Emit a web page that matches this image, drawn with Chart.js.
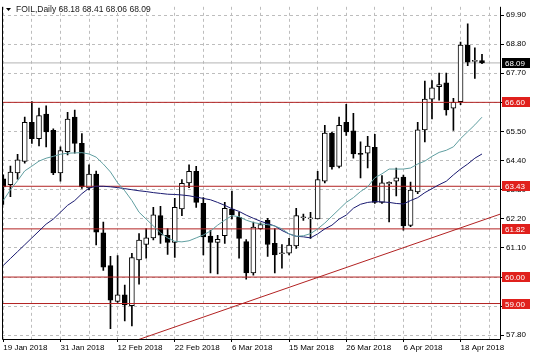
<!DOCTYPE html>
<html><head><meta charset="utf-8">
<script src="https://cdn.jsdelivr.net/npm/chart.js@4/dist/chart.umd.min.js"></script>
<style>html,body{margin:0;padding:0;background:#fff;overflow:hidden}#wrap{width:536px;height:357px}</style>
</head><body><div id="wrap"><canvas id="c" width="536" height="357"></canvas></div>
<script>
const dates = ['19 Jan 2018','22 Jan 2018','23 Jan 2018','24 Jan 2018','25 Jan 2018','26 Jan 2018','29 Jan 2018','30 Jan 2018',
 '31 Jan 2018','1 Feb 2018','2 Feb 2018','5 Feb 2018','6 Feb 2018','7 Feb 2018','8 Feb 2018','9 Feb 2018',
 '12 Feb 2018','13 Feb 2018','14 Feb 2018','15 Feb 2018','16 Feb 2018','19 Feb 2018','20 Feb 2018','21 Feb 2018',
 '22 Feb 2018','23 Feb 2018','26 Feb 2018','27 Feb 2018','28 Feb 2018','1 Mar 2018','2 Mar 2018','5 Mar 2018',
 '6 Mar 2018','7 Mar 2018','8 Mar 2018','9 Mar 2018','11 Mar 2018','12 Mar 2018','13 Mar 2018','14 Mar 2018',
 '15 Mar 2018','16 Mar 2018','19 Mar 2018','20 Mar 2018','21 Mar 2018','22 Mar 2018','23 Mar 2018','25 Mar 2018',
 '26 Mar 2018','27 Mar 2018','28 Mar 2018','29 Mar 2018','2 Apr 2018','3 Apr 2018','4 Apr 2018','5 Apr 2018',
 '6 Apr 2018','9 Apr 2018','10 Apr 2018','11 Apr 2018','12 Apr 2018','13 Apr 2018','16 Apr 2018','17 Apr 2018',
 '18 Apr 2018','19 Apr 2018','20 Apr 2018','23 Apr 2018'];
const open  = [63.71,63.49,63.93,64.37,65.85,65.23,66.16,65.54,63.93,64.74,66.04,65.05,63.37,63.89,61.67,60.43,
 59.08,59.33,58.92,60.65,61.23,61.48,62.32,61.58,61.31,62.57,63.56,63.99,62.79,61.55,61.31,61.56,
 62.57,62.26,61.34,60.16,61.83,62.14,61.27,60.88,60.90,61.18,62.24,62.20,62.20,63.62,65.44,64.18,
 65.85,65.52,64.67,64.68,64.90,62.82,63.52,63.62,63.78,61.95,63.22,65.56,66.72,67.19,67.34,66.38,
 66.63,68.76,68.15,68.18];
const high  = [63.86,64.19,64.64,66.04,66.63,66.38,66.47,65.60,64.92,66.22,66.31,65.42,64.24,64.00,62.08,60.78,
 60.81,59.70,60.90,61.64,61.83,62.63,62.67,61.83,62.97,63.68,64.24,64.18,63.00,61.77,61.58,62.82,
 63.25,62.45,61.42,62.08,62.05,62.22,61.83,61.23,61.46,62.60,62.38,62.45,63.99,65.73,65.48,66.04,
 66.53,66.19,65.11,65.32,65.39,63.83,63.60,64.12,63.85,63.59,65.85,67.40,67.42,67.71,67.71,66.75,
 68.88,69.57,68.66,68.41];
const low   = [62.74,63.04,63.70,64.30,65.05,64.95,64.92,63.87,63.62,64.61,64.68,63.35,63.29,61.21,60.25,58.05,
 59.04,58.34,58.15,59.73,60.71,61.40,61.27,60.86,60.74,62.32,63.38,62.63,60.84,60.16,60.12,61.27,
 62.20,60.71,59.92,60.07,61.80,60.78,60.16,60.34,60.84,61.08,62.14,61.46,62.20,63.56,64.08,64.12,
 65.35,64.49,63.75,64.12,62.78,62.78,62.08,63.07,61.77,61.90,63.15,65.11,65.97,66.68,66.12,65.54,
 66.51,67.99,67.50,68.06];
const close = [63.41,63.97,64.43,65.85,65.23,66.10,65.48,63.93,64.78,65.97,65.05,63.41,63.89,61.70,60.37,59.13,
 59.33,58.95,60.74,61.40,61.48,62.35,61.58,61.31,62.63,63.54,63.99,62.82,61.52,61.31,61.43,62.60,
 62.35,61.46,60.16,61.89,61.98,61.23,60.84,60.92,61.21,62.32,62.28,62.24,63.68,65.44,64.16,65.73,
 65.48,64.65,64.63,64.95,62.82,63.56,63.58,63.75,61.93,63.29,65.56,66.72,67.15,67.27,66.31,66.60,
 68.76,68.12,68.17,68.09];
const maFast = [62.89,63.30,63.64,64.01,64.19,64.38,64.49,64.56,64.64,64.68,64.69,64.70,64.65,64.53,64.27,63.97,
 63.56,63.26,62.89,62.45,62.19,61.93,61.67,61.48,61.35,61.33,61.37,61.48,61.59,61.74,61.96,62.15,
 62.32,62.28,62.15,62.06,62.01,61.98,61.93,61.82,61.63,61.54,61.56,61.64,61.82,62.04,62.30,62.56,
 62.82,63.00,63.23,63.41,63.75,63.90,64.08,64.08,64.08,64.12,64.27,64.38,64.56,64.71,64.79,64.92,
 65.23,65.49,65.75,66.04];
const maSlow = [60.44,60.70,60.96,61.22,61.48,61.74,62.00,62.19,62.45,62.71,62.89,63.15,63.36,63.43,63.43,63.41,
 63.38,63.34,63.30,63.26,63.23,63.19,63.16,63.13,63.12,63.10,63.07,63.02,62.97,62.92,62.82,62.71,
 62.58,62.48,62.34,62.22,62.11,62.02,61.93,61.76,61.63,61.54,61.52,61.48,61.63,61.82,61.96,62.19,
 62.34,62.60,62.75,62.82,62.85,62.84,62.82,62.78,62.76,62.89,63.00,63.19,63.34,63.49,63.62,63.86,
 64.08,64.27,64.49,64.65];
const levels = [66.60, 63.43, 61.82, 60.00, 59.00];
const lastPrice = 68.09;
const yTicks = [57.80, 58.90, 60.00, 61.10, 62.20, 63.30, 64.40, 65.50, 66.60, 67.70, 68.80, 69.90];
const trendLine = [{x: 15, y: 57.27}, {x: 70, y: 62.42}];
const header = 'FOIL,Daily 68.18 68.41 68.06 68.09';

const FONT = {family: '"Liberation Sans", Arial, sans-serif', size: 8};
const GRID = '#bdbdbd';
const LEVEL = '#b22222';
const DASH = [3, 3];

const hline = (v, color, order) => ({
  type: 'line', data: [{x: -1, y: v}, {x: 71, y: v}], borderColor: color, borderWidth: 1,
  pointRadius: 0, order: order
});

const datasets = [
  {type: 'line', data: maFast.map((v, i) => ({x: i, y: v})), borderColor: '#5f9ea0', borderWidth: 1, pointRadius: 0, order: -3},
  {type: 'line', data: maSlow.map((v, i) => ({x: i, y: v})), borderColor: '#191970', borderWidth: 1, pointRadius: 0, order: -3},
  ...levels.map(v => hline(v, LEVEL, -2)),
  hline(lastPrice, '#b4b4b4', 3),
  {type: 'line', data: trendLine, borderColor: LEVEL, borderWidth: 1, pointRadius: 0, order: -2},
  {type: 'bar', data: open.map((o, i) => ({x: i, y: [o, close[i]]})),
   backgroundColor: open.map((o, i) => close[i] >= o ? '#ffffff' : '#000000'),
   borderColor: '#000', borderWidth: 1, borderSkipped: false, barThickness: 5, grouped: false, minBarLength: 1, order: 0},
  {type: 'bar', data: low.map((l, i) => ({x: i, y: [l, high[i]]})),
   backgroundColor: '#000', borderWidth: 0, barThickness: 1, grouped: false, order: 1}
];

const decor = {
  id: 'decor',
  afterDraw(chart) {
    const {ctx, chartArea: a, scales: {y}} = chart;
    ctx.save();
    ctx.strokeStyle = '#000'; ctx.lineWidth = 1; ctx.setLineDash([]);
    ctx.beginPath();
    ctx.moveTo(a.left + 0.5, a.top); ctx.lineTo(a.left + 0.5, a.bottom + 0.5);
    ctx.lineTo(a.right + 0.5, a.bottom + 0.5); ctx.lineTo(a.right + 0.5, a.top);
    ctx.stroke();
    ctx.font = '8px "Liberation Sans", Arial, sans-serif';
    ctx.textBaseline = 'middle'; ctx.textAlign = 'left';
    const box = (v, fill) => {
      const py = Math.round(y.getPixelForValue(v));
      ctx.fillStyle = fill;
      ctx.fillRect(a.right + 2, py - 5, 28, 10);
      ctx.fillStyle = '#fff';
      ctx.fillText(v.toFixed(2), a.right + 5, py + 0.5);
    };
    levels.forEach(v => box(v, '#e0201c'));
    box(lastPrice, '#000');
    ctx.fillStyle = '#000';
    ctx.beginPath(); ctx.moveTo(6, 8); ctx.lineTo(11, 8); ctx.lineTo(8.5, 11); ctx.closePath(); ctx.fill();
    ctx.fillStyle = '#202020';
    ctx.font = '8.5px "Liberation Sans", Arial, sans-serif';
    ctx.fillText(header, 16, 9.5);
    ctx.restore();
  }
};

new Chart(document.getElementById('c'), {
  type: 'bar',
  data: {datasets},
  options: {
    responsive: false, animation: false, devicePixelRatio: 1,
    layout: {padding: {left: 2, top: 1, right: 0, bottom: 0}},
    plugins: {legend: {display: false}, tooltip: {enabled: false}},
    scales: {
      x: {
        type: 'linear', min: -0.18, max: 69.52, offset: false,
        afterBuildTicks: s => { s.ticks = Array.from({length: 18}, (_, k) => ({value: k * 4})); },
        afterFit: s => { s.height = 18; },
        grid: {offset: false, color: GRID, lineWidth: 1, tickLength: 3, borderDash: DASH,
               tickColor: c => (c.tick && c.tick.value % 8 === 0) ? '#000' : 'rgba(0,0,0,0)', tickBorderDash: [1, 0]},
        border: {display: false, dash: DASH},
        ticks: {autoSkip: false, maxRotation: 0, align: 'start', padding: 1, color: '#000', font: FONT,
                callback: v => (v % 8 === 0 && dates[v]) ? dates[v] : ''}
      },
      y: {
        type: 'linear', position: 'right', min: 57.66, max: 70.21, beginAtZero: false,
        afterBuildTicks: s => { s.ticks = yTicks.map(v => ({value: v})); },
        afterFit: s => { s.width = 36; },
        grid: {color: GRID, lineWidth: 1, tickLength: 4, tickColor: '#000', borderDash: DASH, tickBorderDash: [1, 0]},
        border: {display: false, dash: DASH},
        ticks: {padding: 2, color: '#000', font: FONT, callback: v => Number(v).toFixed(2)}
      }
    }
  },
  plugins: [decor]
});
</script>
</body></html>
